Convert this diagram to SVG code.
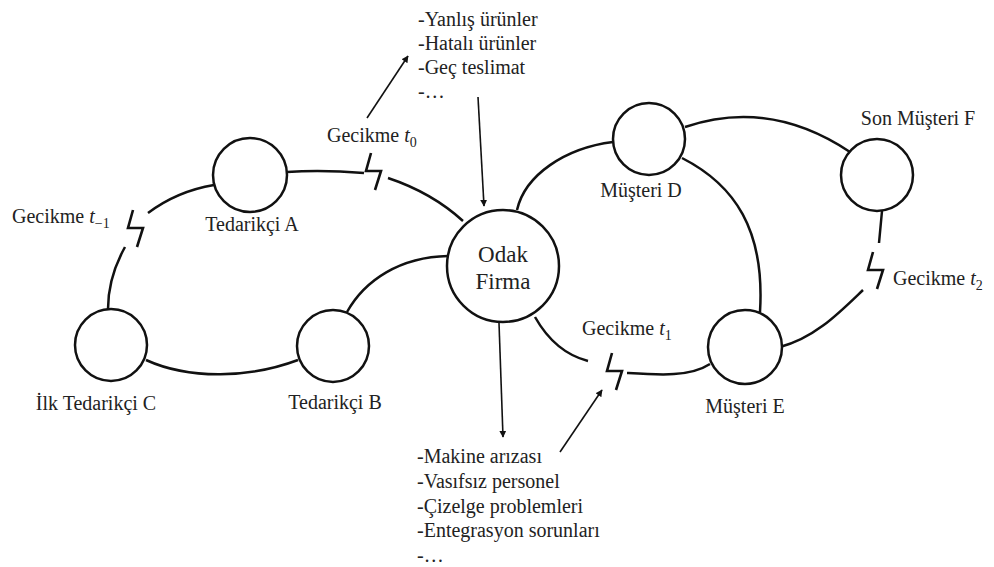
<svg xmlns="http://www.w3.org/2000/svg" width="994" height="567" viewBox="0 0 994 567" font-family="'Liberation Serif', 'DejaVu Serif', serif">
  <style>
    .node { fill: #fff; stroke: #111; stroke-width: 2.5; }
    .link { fill: none; stroke: #111; stroke-width: 2.5; }
    .arrow { fill: none; stroke: #111; stroke-width: 1.6; marker-end: url(#head); }
    .bolt { fill: none; stroke: #111; stroke-width: 2.6; stroke-linejoin: miter; }
    text { font-family: 'Liberation Serif', 'DejaVu Serif', serif; font-size: 20px; fill: #222; }
    .mid { text-anchor: middle; }
    .big { font-size: 23px; }
    .it { font-style: italic; }
    .sub { font-size: 14px; }
  </style>
  <defs>
    <marker id="head" viewBox="0 0 10 10" refX="9" refY="5" markerWidth="7" markerHeight="7" markerUnits="userSpaceOnUse" orient="auto">
      <path d="M0,0 L10,5 L0,10 z" fill="#111"/>
    </marker>
    <path id="bolt" d="M0,0 L-5,18 L10,18 L4,37"/>
  </defs>
  <rect width="994" height="567" fill="#fff"/>

  <g id="connectors">
    <!-- C to A, broken by delay t-1 -->
    <path class="link" d="M108,309 C108,285 115,265 125,247"/>
    <path class="link" d="M148,213 C168,198 190,189 214,185"/>
    <use href="#bolt" class="bolt" x="133" y="210"/>
    <!-- A to focal firm, broken by delay t0 -->
    <path class="link" d="M287,172 C315,170 340,171 364,173"/>
    <path class="link" d="M388,178 C415,187 440,200 463,221"/>
    <use href="#bolt" class="bolt" x="371" y="153"/>
    <!-- C to B -->
    <path class="link" d="M146,360 C190,380 250,378 298,360"/>
    <!-- B to focal firm -->
    <path class="link" d="M347,312 C365,280 400,257 448,256"/>
    <!-- focal firm to D -->
    <path class="link" d="M517,210 C525,175 565,148 613,142"/>
    <!-- D to F -->
    <path class="link" d="M685,127 C735,110 790,112 850,152"/>
    <!-- D to E -->
    <path class="link" d="M682,158 C735,185 765,230 760,312"/>
    <!-- F to E, broken by delay t2 -->
    <path class="link" d="M882,211 L879,243"/>
    <use href="#bolt" class="bolt" x="873" y="252"/>
    <path class="link" d="M863,290 C840,312 815,338 780,347"/>
    <!-- focal firm to E, broken by delay t1 -->
    <path class="link" d="M535,317 C548,340 565,355 588,361"/>
    <use href="#bolt" class="bolt" x="612" y="353"/>
    <path class="link" d="M627,373 C660,375 690,377 710,364"/>
    <!-- cause arrows -->
    <path class="arrow" d="M367,118 L408,56"/>
    <path class="arrow" d="M478,97 L484,206"/>
    <path class="arrow" d="M499,323 L503,437"/>
    <path class="arrow" d="M560,452 L602,390"/>
  </g>

  <g id="tedarikci-a">
    <circle class="node" cx="250" cy="175" r="37"/>
    <text class="mid" x="252" y="231">Tedarikçi A</text>
  </g>
  <g id="ilk-tedarikci-c">
    <circle class="node" cx="111" cy="345" r="36"/>
    <text class="mid" x="96" y="410">İlk Tedarikçi C</text>
  </g>
  <g id="tedarikci-b">
    <circle class="node" cx="333" cy="346" r="36"/>
    <text class="mid" x="335" y="409">Tedarikçi B</text>
  </g>
  <g id="odak-firma">
    <circle class="node" cx="503" cy="266" r="56"/>
    <text class="mid big" x="503" y="262">Odak</text>
    <text class="mid big" x="503" y="289">Firma</text>
  </g>
  <g id="musteri-d">
    <circle class="node" cx="649" cy="139" r="36"/>
    <text class="mid" x="641" y="197">Müşteri D</text>
  </g>
  <g id="musteri-e">
    <circle class="node" cx="745" cy="347" r="37"/>
    <text class="mid" x="745" y="413">Müşteri E</text>
  </g>
  <g id="son-musteri-f">
    <circle class="node" cx="877" cy="175" r="36"/>
    <text class="mid" x="918" y="125">Son Müşteri F</text>
  </g>

  <g id="delay-labels">
    <text x="12" y="223">Gecikme <tspan class="it">t</tspan><tspan class="sub" dy="5">−1</tspan></text>
    <text x="327" y="142">Gecikme <tspan class="it">t</tspan><tspan class="sub" dy="5">0</tspan></text>
    <text x="582" y="335">Gecikme <tspan class="it">t</tspan><tspan class="sub" dy="5">1</tspan></text>
    <text x="893" y="285">Gecikme <tspan class="it">t</tspan><tspan class="sub" dy="5">2</tspan></text>
  </g>

  <g id="upstream-causes">
    <text x="418" y="26">-Yanlış ürünler</text>
    <text x="418" y="50">-Hatalı ürünler</text>
    <text x="418" y="74">-Geç teslimat</text>
    <text x="418" y="98">-…</text>
  </g>
  <g id="internal-causes">
    <text x="417" y="463">-Makine arızası</text>
    <text x="417" y="488">-Vasıfsız personel</text>
    <text x="417" y="513">-Çizelge problemleri</text>
    <text x="417" y="537">-Entegrasyon sorunları</text>
    <text x="417" y="562">-…</text>
  </g>
</svg>
